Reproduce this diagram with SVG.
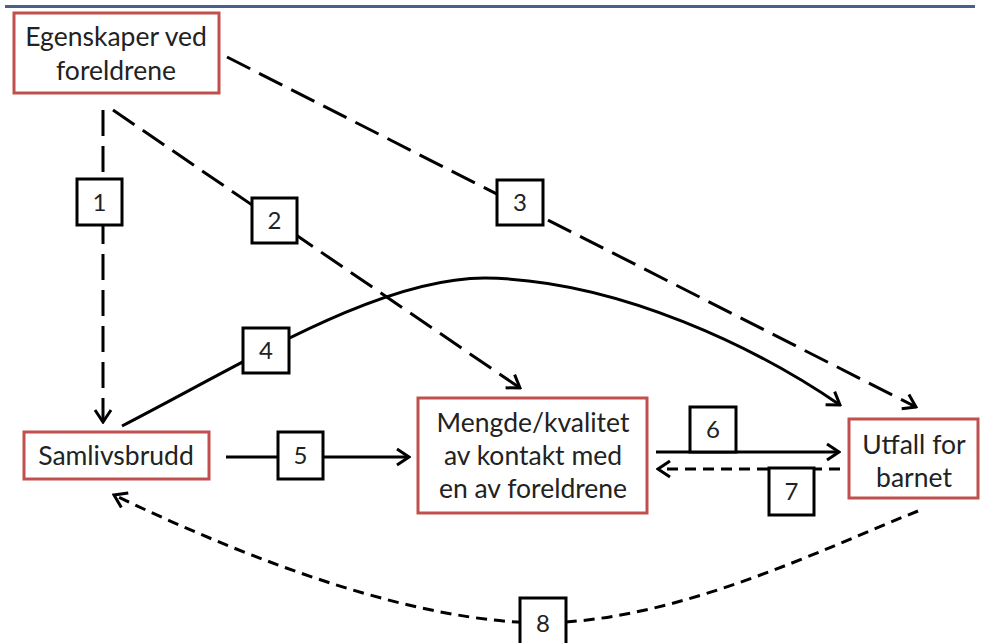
<svg xmlns="http://www.w3.org/2000/svg" width="982" height="643" viewBox="0 0 982 643">
<style>
.node rect{fill:#fff;stroke:#c0504d;stroke-width:3}
.num rect{fill:#fff;stroke:#000;stroke-width:3}
text{font-family:Lato,"Open Sans","Liberation Sans",sans-serif;fill:#222;text-anchor:middle}
.nt{font-size:26.5px}
.num text{font-size:24px}
.c{fill:none;stroke:#000;stroke-width:3}
.ld{stroke-dasharray:26 10}
.sd{stroke-dasharray:11 7}
</style>
<defs>
<marker id="ah" viewBox="-14 -10 16 20" markerWidth="16" markerHeight="20" refX="0" refY="0" orient="auto" markerUnits="userSpaceOnUse">
<path d="M-12,-8 L0,0 L-12,8" fill="none" stroke="#000" stroke-width="3"/>
</marker>
</defs>
<rect x="5" y="5" width="970" height="3" fill="#46618c"/>
<g id="connectors">
<path class="c ld" d="M103,110 L103,422" marker-end="url(#ah)"/>
<path class="c ld" d="M113,110 L520,388" marker-end="url(#ah)"/>
<path class="c ld" d="M227,57 L916,407" marker-end="url(#ah)"/>
<path class="c" d="M122,426 C250,360 380,278 485,278 C620,280 760,350 840,405" marker-end="url(#ah)"/>
<path class="c" d="M226,457 L409,457" marker-end="url(#ah)"/>
<path class="c" d="M656,452 L839,452" marker-end="url(#ah)"/>
<path class="c sd" d="M840,469 L658,469" marker-end="url(#ah)"/>
<path class="c sd" d="M918,511 C820,550 680,620 545,623 C420,623 260,565 114,495" marker-end="url(#ah)"/>
</g>
<g id="egenskaper" class="node"><rect x="14" y="13" width="205" height="80"/><text class="nt" x="116" y="46">Egenskaper ved</text><text class="nt" x="116" y="80">foreldrene</text></g>
<g id="samlivsbrudd" class="node"><rect x="24" y="432" width="185" height="47"/><text class="nt" x="116" y="465">Samlivsbrudd</text></g>
<g id="mengde" class="node"><rect x="418" y="398" width="229" height="115"/><text class="nt" x="533" y="432">Mengde/kvalitet</text><text class="nt" x="533" y="465">av kontakt med</text><text class="nt" x="533" y="498">en av foreldrene</text></g>
<g id="utfall" class="node"><rect x="849" y="419" width="129" height="79"/><text class="nt" x="914" y="454">Utfall for</text><text class="nt" x="914" y="487">barnet</text></g>
<g id="n1" class="num"><rect x="77" y="179" width="45" height="46"/><text x="99.5" y="211">1</text></g>
<g id="n2" class="num"><rect x="252" y="198" width="45" height="45"/><text x="274.5" y="229">2</text></g>
<g id="n3" class="num"><rect x="497" y="180" width="46" height="45"/><text x="520" y="211">3</text></g>
<g id="n4" class="num"><rect x="243" y="328" width="46" height="45"/><text x="266" y="359">4</text></g>
<g id="n5" class="num"><rect x="278" y="432" width="45" height="47"/><text x="300.5" y="464">5</text></g>
<g id="n6" class="num"><rect x="690" y="407" width="46" height="45"/><text x="713" y="438">6</text></g>
<g id="n7" class="num"><rect x="769" y="468" width="45" height="47"/><text x="791.5" y="500">7</text></g>
<g id="n8" class="num"><rect x="520" y="598" width="46" height="48"/><text x="543" y="632">8</text></g>
</svg>
